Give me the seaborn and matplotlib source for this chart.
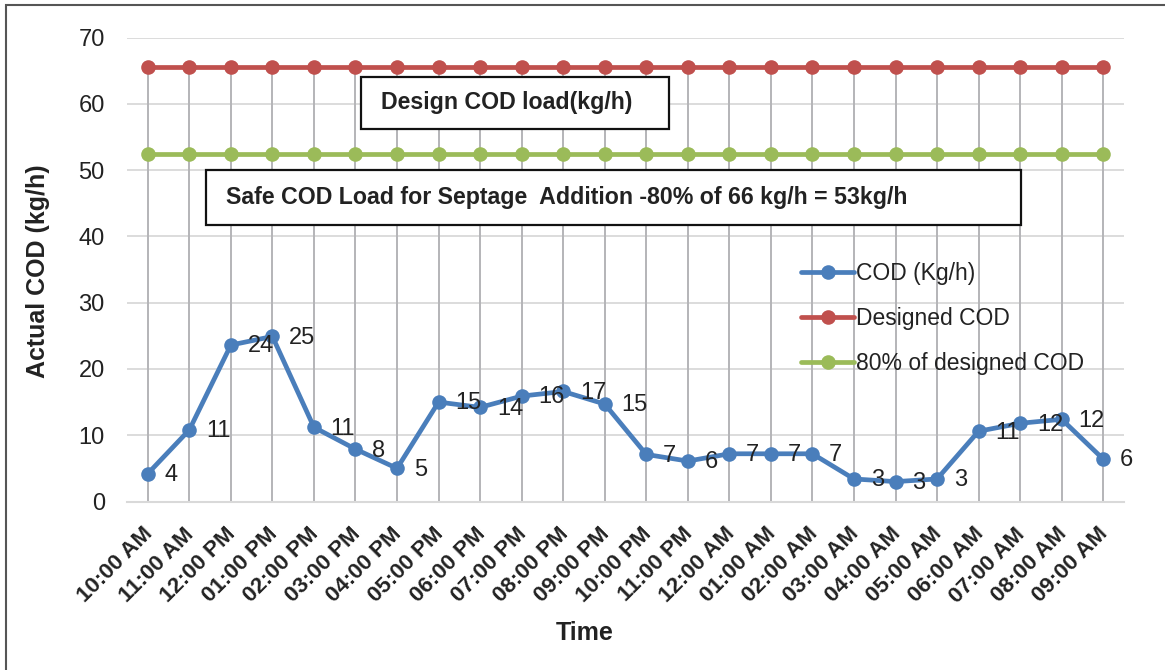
import matplotlib
matplotlib.use("Agg")
import matplotlib.pyplot as plt
import matplotlib.patches as mpatches
import seaborn as sns
import pandas as pd

# Hourly readings, 10 AM to 9 AM next day
times = ["10:00 AM", "11:00 AM", "12:00 PM", "01:00 PM", "02:00 PM", "03:00 PM",
         "04:00 PM", "05:00 PM", "06:00 PM", "07:00 PM", "08:00 PM", "09:00 PM",
         "10:00 PM", "11:00 PM", "12:00 AM", "01:00 AM", "02:00 AM", "03:00 AM",
         "04:00 AM", "05:00 AM", "06:00 AM", "07:00 AM", "08:00 AM", "09:00 AM"]
cod_actual = [4.2, 10.8, 23.6, 24.9, 11.2, 7.9, 5.0, 15.0, 14.2, 15.9, 16.6, 14.7,
              7.1, 6.1, 7.2, 7.2, 7.2, 3.4, 3.0, 3.4, 10.6, 11.8, 12.4, 6.4]
design_load = 65.6
safe_load = 52.5
cod_design = [design_load] * len(times)
cod_safe = [safe_load] * len(times)

series_names = ["COD (Kg/h)", "Designed COD", "80% of designed COD"]
colors = ["#4a7ebb", "#c0504d", "#9bbb59"]

W, H = 1165, 670
sns.set_theme(style="white")
plt.rcParams["font.family"] = ["Liberation Sans", "DejaVu Sans"]

fig = plt.figure(figsize=(W / 100, H / 100), dpi=100)
fig.patch.set_facecolor("white")


def fx(px):
    return px / W


def fy(py):
    return 1 - py / H


ax = fig.add_axes([fx(127), fy(501.5), fx(1124) - fx(127), fy(37.5) - fy(501.5)])

x = list(range(len(times)))
df = pd.DataFrame({
    "x": x * 3,
    "value": cod_actual + cod_design + cod_safe,
    "series": [series_names[0]] * len(x) + [series_names[1]] * len(x) + [series_names[2]] * len(x),
})

# Horizontal gridlines and drop lines from the top series
for yv in range(10, 71, 10):
    ax.axhline(yv, color="#d9d9d9", lw=1.3, zorder=0)
ax.vlines(x, 0, cod_design, color="#b4b4b8", lw=1.4, zorder=1)

sns.lineplot(data=df, x="x", y="value", hue="series", hue_order=series_names,
             palette=colors, marker="o", markersize=10.5, markeredgewidth=0,
             linewidth=3.4, ax=ax, zorder=3, legend=True)

# Value labels to the right of each point
for xi, v in zip(x, cod_actual):
    ax.annotate(f"{v:.0f}", (xi, v), xytext=(12, -1), textcoords="offset points",
                ha="left", va="center", fontsize=17, color="#222222", zorder=4)

ax.set_xlim(-0.5, len(times) - 0.5)
ax.set_ylim(0, 70)
ax.set_yticks(range(0, 71, 10))
ax.set_yticklabels([str(v) for v in range(0, 71, 10)], fontsize=17, color="#222222")
ax.set_xticks(x)
ax.set_xticklabels(times, rotation=45, ha="right", va="center_baseline", rotation_mode="anchor",
                   fontsize=16, fontweight="bold", color="#222222")
ax.tick_params(axis="x", length=0, pad=20)
ax.tick_params(axis="y", length=0, pad=16)
for side in ["left", "right", "top"]:
    ax.spines[side].set_visible(False)
ax.spines["bottom"].set_color("#d9d9d9")
ax.spines["bottom"].set_linewidth(1.5)
ax.set_xlabel("")
ax.set_ylabel("")
fig.text(fx(38), fy(271), "Actual COD (kg/h)", rotation=90, ha="center", va="center",
         fontsize=18, fontweight="bold", color="#222222")
fig.text(fx(585), fy(633), "Time", ha="center", va="center",
         fontsize=18, fontweight="bold", color="#222222")

leg = ax.legend(loc="upper left", bbox_to_anchor=(fx(792), fy(253)),
                bbox_transform=fig.transFigure, frameon=False, fontsize=16.5,
                handlelength=2.3, handletextpad=0.1, labelspacing=0.95,
                borderaxespad=0)
for t in leg.get_texts():
    t.set_color("#222222")

# Annotation boxes
def label_box(x0, y0, x1, y1, text):
    fig.patches.append(mpatches.Rectangle((fx(x0), fy(y1)), fx(x1) - fx(x0), fy(y0) - fy(y1),
                                          transform=fig.transFigure, facecolor="white",
                                          edgecolor="#111111", lw=1.6, zorder=5))
    fig.text(fx(x0 + 20), fy((y0 + y1) / 2), text, ha="left", va="center",
             fontsize=16.7, fontweight="bold", color="#222222", zorder=6)


label_box(361, 77, 669, 129, "Design COD load(kg/h)")
label_box(206, 170, 1021, 225, "Safe COD Load for Septage  Addition -80% of 66 kg/h = 53kg/h")

# Outer frame
fig.patches.append(mpatches.Rectangle((fx(6), fy(H + 5)), fx(W + 5) - fx(6), fy(5) - fy(H + 5),
                                      transform=fig.transFigure, facecolor="none",
                                      edgecolor="#555555", lw=1.5, zorder=0))

fig.savefig("out.png", dpi=100, facecolor="white")
